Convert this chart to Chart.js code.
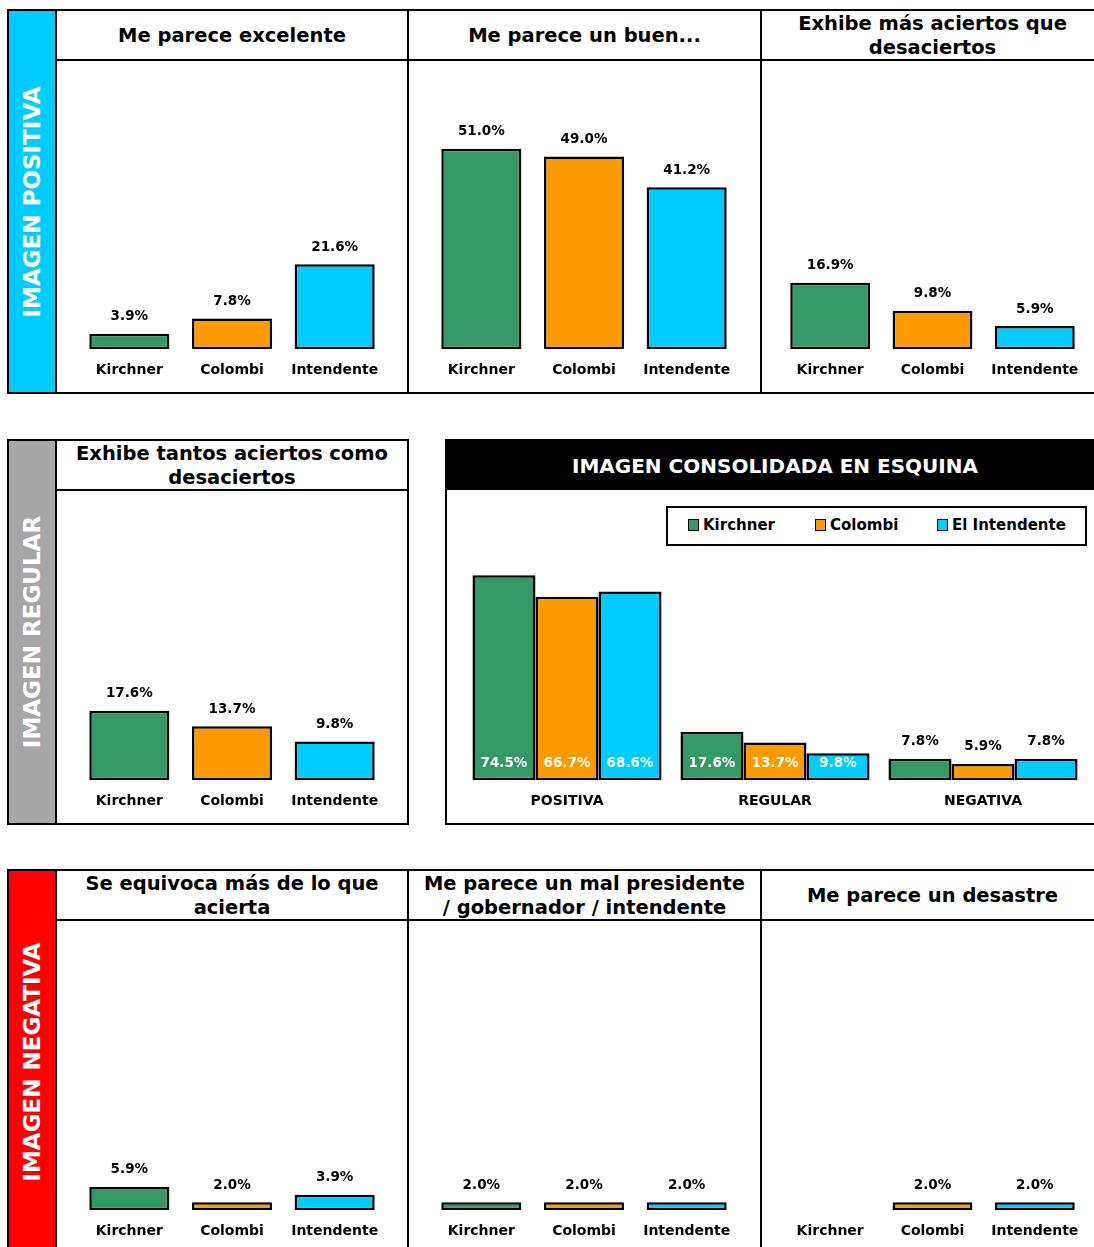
<!DOCTYPE html>
<html>
<head>
<meta charset="utf-8">
<script src="https://cdn.jsdelivr.net/npm/chart.js@4.4.0/dist/chart.umd.min.js"></script>
<style>
  html, body { margin: 0; padding: 0; width: 1094px; height: 1247px; overflow: hidden; background: #fff; }
  body { position: relative; font-family: "DejaVu Sans", Verdana, sans-serif; font-weight: bold; color: #000; }
  .box { position: absolute; box-sizing: border-box; }
  .head { position: absolute; display: flex; align-items: center; justify-content: center; text-align: center; font-size: 19.5px; line-height: 24px; padding-top: 2px; box-sizing: border-box; }
  .vtext { position: absolute; white-space: nowrap; color: #fff; font-size: 23px; transform: translate(-50%, -50%) rotate(-90deg); }
  .legend { position: absolute; box-sizing: border-box; border: 2px solid #000; background: #fff; font-size: 15px; }
  .legend span.item { position: absolute; top: 0; line-height: 35px; white-space: nowrap; }
  .legend i { display: inline-block; width: 9px; height: 10px; border: 1px solid #000; margin-right: 4px; vertical-align: -1px; }
</style>
</head>
<body>
<script>
  // ---- data ----
  const candidates = ["Kirchner", "Colombi", "Intendente"];
  const excelente = [3.9, 7.8, 21.6];
  const buenPresidente = [51.0, 49.0, 41.2];
  const masAciertos = [16.9, 9.8, 5.9];
  const tantosAciertos = [17.6, 13.7, 9.8];
  const seEquivoca = [5.9, 2.0, 3.9];
  const malPresidente = [2.0, 2.0, 2.0];
  const desastre = [null, 2.0, 2.0];

  const imageGroups = ["POSITIVA", "REGULAR", "NEGATIVA"];
  const legendNames = ["Kirchner", "Colombi", "El Intendente"];
  const kirchnerTotals = [74.5, 17.6, 7.8];
  const colombiTotals = [66.7, 13.7, 5.9];
  const intendenteTotals = [68.6, 9.8, 7.8];

  // ---- styles ----
  const GREEN = "#339966", ORANGE = "#FF9900", CYAN = "#00CCFF";
  const candidateColors = [GREEN, ORANGE, CYAN];
  const FONT = "'DejaVu Sans', Verdana, sans-serif";

  function rect(x, y, w, h, css) {
    const d = document.createElement("div");
    d.className = "box";
    Object.assign(d.style, { left: x + "px", top: y + "px", width: w + "px", height: h + "px" }, css || {});
    document.body.appendChild(d);
    return d;
  }

  function title(x, y, w, h, html, css) {
    const d = document.createElement("div");
    d.className = "head";
    Object.assign(d.style, { left: x + "px", top: y + "px", width: w + "px", height: h + "px" }, css || {});
    d.innerHTML = html;
    document.body.appendChild(d);
  }

  function band(top, bottom, color, text) {
    rect(7, top, 49, bottom - top, { background: color });
    const t = document.createElement("div");
    t.className = "vtext";
    t.style.left = "32px";
    t.style.top = (top + bottom) / 2 + "px";
    t.textContent = text;
    document.body.appendChild(t);
  }

  function canvasAt(x, y, w, h) {
    const wrap = rect(x, y, w, h);
    const c = document.createElement("canvas");
    wrap.appendChild(c);
    return c;
  }

  // labels above bars (or inside at the base)
  const valueLabels = {
    id: "valueLabels",
    afterDatasetsDraw(chart, args, opts) {
      const ctx = chart.ctx;
      ctx.save();
      ctx.font = "bold 13.5px " + FONT;
      ctx.textAlign = "center";
      ctx.textBaseline = "middle";
      chart.data.datasets.forEach((ds, di) => {
        chart.getDatasetMeta(di).data.forEach((bar, i) => {
          const v = ds.data[i];
          if (v == null) return;
          const txt = v.toFixed(1) + "%";
          if (opts.inside && opts.inside[i]) {
            ctx.fillStyle = "#fff";
            ctx.fillText(txt, bar.x, bar.base - 17);
          } else {
            ctx.fillStyle = "#000";
            ctx.fillText(txt, bar.x, bar.y - 17);
          }
        });
      });
      ctx.restore();
    }
  };

  function xAxis() {
    return {
      grid: { display: false, drawTicks: false },
      border: { display: false },
      ticks: { color: "#000", padding: 13, font: { family: FONT, size: 14, weight: "bold" } }
    };
  }

  function smallChart(canvas, values, pl, pr) {
    return new Chart(canvas, {
      type: "bar",
      data: {
        labels: candidates,
        datasets: [{
          data: values,
          backgroundColor: candidateColors,
          borderColor: "#000",
          borderWidth: 2.5,
          borderSkipped: false,
          barPercentage: 0.78,
          categoryPercentage: 1
        }]
      },
      options: {
        responsive: true,
        maintainAspectRatio: false,
        animation: false,
        layout: { padding: { top: 13, bottom: 0, left: pl, right: pr } },
        plugins: { legend: { display: false }, tooltip: { enabled: false }, valueLabels: {} },
        scales: { x: xAxis(), y: { display: false, min: 0, max: 70 } }
      },
      plugins: [valueLabels]
    });
  }

  // three-panel rows
  const panelX = [[57, 350, 21, 21], [409, 351, 21, 22], [762, 341, 17, 17]];
  const rows = [
    { top: 10, bottom: 393, color: "#00CCFF", text: "IMAGEN POSITIVA",
      titles: ["Me parece excelente", "Me parece un buen...", "Exhibe más aciertos que<br>desaciertos"],
      values: [excelente, buenPresidente, masAciertos] },
    { top: 870, bottom: 1254, color: "#FF0000", text: "IMAGEN NEGATIVA",
      titles: ["Se equivoca más de lo que<br>acierta", "Me parece un mal presidente<br>/ gobernador / intendente", "Me parece un desastre"],
      values: [seEquivoca, malPresidente, desastre] }
  ];

  rows.forEach((r) => {
    band(r.top, r.bottom, r.color, r.text);
    rect(7, r.top - 1, 1110, r.bottom - r.top + 2, { border: "2px solid #000" });
    rect(56, r.top + 49, 1060, 2, { background: "#000" });
    [55, 407, 760].forEach((x) => rect(x, r.top, 2, r.bottom - r.top, { background: "#000" }));
    panelX.forEach((p, i) => {
      title(p[0], r.top, p[1], 50, r.titles[i]);
      const c = canvasAt(p[0], r.top + 51, p[1], r.bottom - r.top - 52);
      smallChart(c, r.values[i], p[2], p[3]);
    });
  });

  // middle row, left: regular image
  band(440, 824, "#A6A6A6", "IMAGEN REGULAR");
  rect(7, 439, 402, 386, { border: "2px solid #000" });
  rect(55, 440, 2, 384, { background: "#000" });
  rect(56, 489, 352, 2, { background: "#000" });
  title(57, 440, 350, 50, "Exhibe tantos aciertos como<br>desaciertos");
  smallChart(canvasAt(57, 491, 350, 332), tantosAciertos, 21, 21);

  // middle row, right: consolidated image
  rect(445, 439, 670, 386, { border: "2px solid #000" });
  rect(445, 439, 670, 51, { background: "#000" });
  title(446, 440, 658, 50, "IMAGEN CONSOLIDADA EN ESQUINA", { color: "#fff", fontSize: "20px" });

  const legend = document.createElement("div");
  legend.className = "legend";
  Object.assign(legend.style, { left: "666px", top: "506px", width: "421px", height: "40px" });
  const legendX = [20, 147, 269];
  legendNames.forEach((name, i) => {
    const s = document.createElement("span");
    s.className = "item";
    s.style.left = legendX[i] + "px";
    s.innerHTML = '<i style="background:' + candidateColors[i] + '"></i>' + name;
    legend.appendChild(s);
  });
  document.body.appendChild(legend);

  const consolidated = canvasAt(447, 491, 656, 332);
  new Chart(consolidated, {
    type: "bar",
    data: {
      labels: imageGroups,
      datasets: [kirchnerTotals, colombiTotals, intendenteTotals].map((vals, i) => ({
        label: legendNames[i],
        data: vals,
        backgroundColor: candidateColors[i],
        borderColor: "#000",
        borderWidth: 2.5,
        borderSkipped: false,
        barPercentage: 1,
        categoryPercentage: 0.909
      }))
    },
    options: {
      responsive: true,
      maintainAspectRatio: false,
      animation: false,
      layout: { padding: { top: 14, bottom: 0, left: 16, right: 16 } },
      plugins: {
        legend: { display: false },
        tooltip: { enabled: false },
        valueLabels: { inside: [true, true, false] }
      },
      scales: { x: xAxis(), y: { display: false, min: 0, max: 100 } }
    },
    plugins: [valueLabels]
  });
</script>
</body>
</html>
